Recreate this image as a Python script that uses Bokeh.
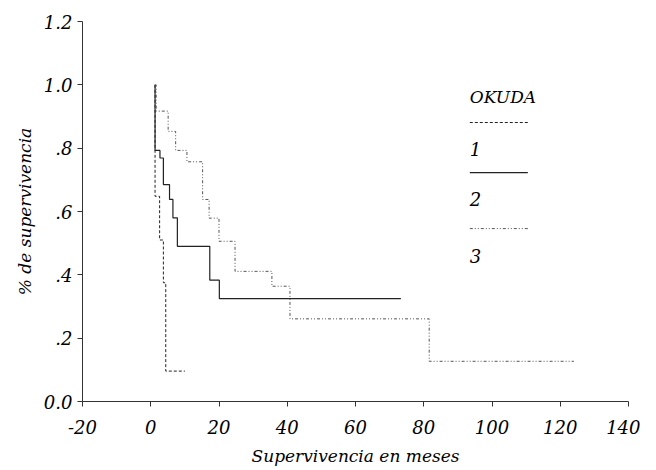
from bokeh.plotting import figure
from bokeh.models import FixedTicker, Range1d
from bokeh.core.properties import value
from bokeh.embed import file_html
from bokeh.resources import INLINE

# --- data ---
x_ticks = [-20, 0, 20, 40, 60, 80, 100, 120, 140]
x_tick_labels = ["-20", "0", "20", "40", "60", "80", "100", "120", "140"]
y_ticks = [0.0, 0.2, 0.4, 0.6, 0.8, 1.0, 1.2]
y_tick_labels = ["0.0", ".2", ".4", ".6", ".8", "1.0", "1.2"]

g1_start = 1.26
g1_times = [1.26, 2.6, 3.7, 4.4]
g1_surv = [0.648, 0.51, 0.375, 0.096]
g1_end = 10.0

g2_start = 1.26
g2_times = [1.26, 2.7, 3.7, 5.5, 6.5, 7.8, 17.3, 20.1]
g2_surv = [0.793, 0.769, 0.685, 0.638, 0.58, 0.49, 0.383, 0.325]
g2_end = 73.3

g3_start = 1.26
g3_times = [1.6, 5.1, 7.3, 10.6, 15.2, 17.1, 20.0, 24.7, 35.5, 40.8, 81.6]
g3_surv = [0.917, 0.853, 0.793, 0.757, 0.638, 0.579, 0.506, 0.411, 0.364, 0.261, 0.127]
g3_end = 124.0

legend_title = "OKUDA"
legend_labels = ["1", "2", "3"]

FONT = "DejaVu Serif"

p = figure(width=640, height=468, output_backend="svg", toolbar_location=None,
           x_range=Range1d(-20, 140), y_range=Range1d(0, 1.2))
p.min_border_left = 82
p.min_border_right = 12
p.min_border_top = 21
p.min_border_bottom = 67
p.outline_line_color = None
p.grid.visible = False
p.background_fill_color = "white"
p.border_fill_color = "white"

for ax in (p.xaxis[0], p.yaxis[0]):
    ax.major_label_text_font = FONT
    ax.major_label_text_font_style = "italic"
    ax.major_label_text_font_size = "18px"
    ax.major_label_text_color = "black"
    ax.axis_label_text_font = FONT
    ax.axis_label_text_font_style = "italic"
    ax.axis_label_text_font_size = "17px"
    ax.axis_label_text_color = "black"
    ax.axis_line_color = "#333333"
    ax.major_tick_line_color = "#333333"
    ax.major_tick_out = 5
    ax.major_tick_in = 0
    ax.minor_tick_line_color = None

p.xaxis.ticker = FixedTicker(ticks=x_ticks)
p.yaxis.ticker = FixedTicker(ticks=y_ticks)
p.xaxis.major_label_overrides = {t: l for t, l in zip(x_ticks, x_tick_labels)}
p.yaxis.major_label_overrides = {t: l for t, l in zip(y_ticks, y_tick_labels)}
p.xaxis.axis_label = "Supervivencia en meses"
p.yaxis.axis_label = "% de supervivencia"
p.xaxis.major_label_standoff = 13
p.yaxis.major_label_standoff = 5
p.xaxis.axis_label_standoff = 9
p.yaxis.axis_label_standoff = 6


def km(start, times, surv, end):
    xs = [start] + times + [end]
    ys = [1.0] + surv + [surv[-1]]
    return xs, ys


styles = [
    dict(line_color="#222222", line_dash="3 2", line_width=1),
    dict(line_color="#222222", line_dash="solid", line_width=1.2),
    dict(line_color="#555555", line_dash="3 2 1 2 1 2", line_width=1),
]

curves = [km(g1_start, g1_times, g1_surv, g1_end),
          km(g2_start, g2_times, g2_surv, g2_end),
          km(g3_start, g3_times, g3_surv, g3_end)]

for (xs, ys), st in zip(curves, styles):
    p.step(xs, ys, mode="after", **st)

# legend (drawn manually: sample lines between the labels)
lx0, lx1 = 93.5, 110.5
p.text(x=[lx0], y=[0.963], text=[legend_title], text_font=value(FONT),
       text_font_style="italic", text_font_size="17px", text_baseline="middle",
       text_align="left", text_color="black")
sample_y = [0.881, 0.723, 0.546]
label_y = [0.796, 0.638, 0.461]
for sy, ly, lab, st in zip(sample_y, label_y, legend_labels, styles):
    p.segment(x0=[lx0], y0=[sy], x1=[lx1], y1=[sy], **st)
    p.text(x=[lx0], y=[ly], text=[lab], text_font=value(FONT),
           text_font_style="italic", text_font_size="18px", text_baseline="middle",
           text_align="left", text_color="black")

open("out.html", "w").write(file_html(p, INLINE))
